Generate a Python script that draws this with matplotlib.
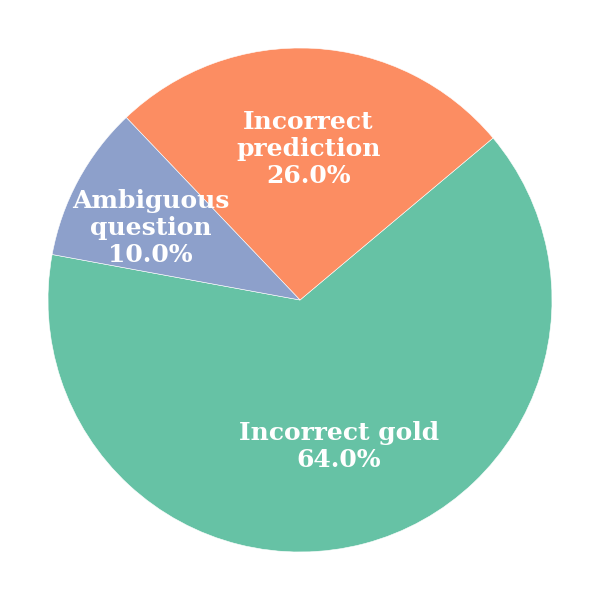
import matplotlib
matplotlib.use("Agg")
import matplotlib.pyplot as plt

# error categories and their share (%)
labels = ["Incorrect gold", "Incorrect\nprediction", "Ambiguous\nquestion"]
shares = [64.0, 26.0, 10.0]
colors = ["#66c2a5", "#fc8d62", "#8da0cb"]
# small horizontal nudge of each label (axes data units)
label_dx = [0.0, 0.0, -0.065]

fig = plt.figure(figsize=(6, 6), dpi=100)
ax = fig.add_axes([0, 0, 1, 1])

it = iter(labels)
wedges, texts, autotexts = ax.pie(
    shares,
    colors=colors,
    startangle=169.6,
    autopct=lambda p: "%s\n%.1f%%" % (next(it), p),
    pctdistance=0.6,
    wedgeprops=dict(edgecolor="white", linewidth=0.4),
    textprops=dict(color="white", fontsize=18, fontweight="bold", family="DejaVu Serif"),
)
for t, dx in zip(autotexts, label_dx):
    t.set_horizontalalignment("center")
    t.set_multialignment("center")
    t.set_linespacing(1.15)
    x, y = t.get_position()
    t.set_position((x + dx, y))

lim = 300 / 252
ax.set_xlim(-lim, lim)
ax.set_ylim(-lim, lim)
ax.set_aspect("equal")

fig.savefig("out.png", dpi=100)
